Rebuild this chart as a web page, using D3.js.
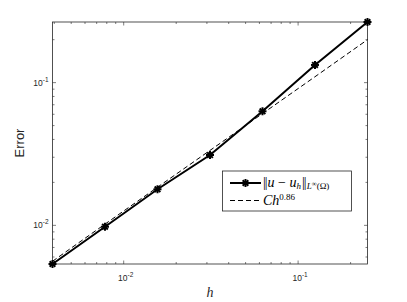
<!DOCTYPE html>
<html>
<head>
<meta charset="utf-8">
<script src="https://d3js.org/d3.v7.min.js"></script>
<style>
  body { margin: 0; background: #fff; }
  svg { display: block; }
</style>
</head>
<body>
<div id="chart"></div>
<script>
// mesh sizes and measured errors
const hValues = [1/256, 1/128, 1/64, 1/32, 1/16, 1/8, 1/4];
const errValues = [0.00536, 0.00978, 0.0179, 0.0311, 0.0630, 0.133, 0.266];
// reference rate line C h^0.86, read at the same h
const fitValues = [0.0056, 0.0102, 0.0185, 0.0335, 0.0607, 0.110, 0.200];
const xMajor = [1e-2, 1e-1];
const yMajor = [1e-2, 1e-1];

const width = 407, height = 302;
const plotL = 52.5, plotR = 367.5, plotT = 22, plotB = 264;

const svg = d3.select("#chart")
  .append("svg")
  .attr("width", width)
  .attr("height", height);

const x = d3.scaleLog()
  .domain([1/256, 1/4])
  .range([plotL, plotR]);

const y = d3.scaleLog()
  .domain([0.00536, 0.266])
  .range([plotB, plotT]);

// minor ticks for each decade
function minorTicks(scale) {
  const [a, b] = scale.domain();
  const out = [];
  for (let e = Math.floor(Math.log10(a)); e <= Math.ceil(Math.log10(b)); e++) {
    for (let m = 1; m < 10; m++) {
      const v = m * Math.pow(10, e);
      if (v >= a && v <= b) out.push({ v: v, major: m === 1 });
    }
  }
  return out;
}

const ticks = svg.append("g").attr("stroke", "#262626").attr("stroke-width", 0.6);
minorTicks(x).forEach(t => {
  const len = t.major ? 3.5 : 2;
  const px = x(t.v);
  ticks.append("line").attr("x1", px).attr("x2", px).attr("y1", plotB).attr("y2", plotB - len);
  ticks.append("line").attr("x1", px).attr("x2", px).attr("y1", plotT).attr("y2", plotT + len);
});
minorTicks(y).forEach(t => {
  const len = t.major ? 3.5 : 2;
  const py = y(t.v);
  ticks.append("line").attr("x1", plotL).attr("x2", plotL + len).attr("y1", py).attr("y2", py);
  ticks.append("line").attr("x1", plotR).attr("x2", plotR - len).attr("y1", py).attr("y2", py);
});

// tick labels 10^n
function expLabel(g, exp, anchor) {
  const t = g.append("text")
    .attr("font-family", "Liberation Sans, Arial, sans-serif")
    .attr("font-size", 8.5)
    .attr("fill", "#262626")
    .attr("text-anchor", anchor);
  t.append("tspan").text("10");
  t.append("tspan").attr("font-size", 6.5).attr("dy", -4).text(exp);
  return t;
}

xMajor.forEach(v => {
  expLabel(svg, "-" + Math.round(-Math.log10(v)), "middle")
    .attr("x", x(v) + 2)
    .attr("y", 281);
});
yMajor.forEach(v => {
  expLabel(svg, "-" + Math.round(-Math.log10(v)), "end")
    .attr("x", plotL - 4)
    .attr("y", y(v) + 3);
});

// axis box
svg.append("rect")
  .attr("x", plotL).attr("y", plotT)
  .attr("width", plotR - plotL).attr("height", plotB - plotT)
  .attr("fill", "none")
  .attr("stroke", "#262626")
  .attr("stroke-width", 0.8);

// axis labels
svg.append("text")
  .attr("transform", `translate(24,${(plotT + plotB) / 2}) rotate(-90)`)
  .attr("text-anchor", "middle")
  .attr("font-family", "Liberation Sans, Arial, sans-serif")
  .attr("font-size", 13)
  .attr("fill", "#262626")
  .text("Error");

svg.append("text")
  .attr("x", (plotL + plotR) / 2)
  .attr("y", 297)
  .attr("text-anchor", "middle")
  .attr("font-family", "Liberation Serif, Times New Roman, serif")
  .attr("font-style", "italic")
  .attr("font-size", 14)
  .attr("fill", "#262626")
  .text("h");

const line = d3.line()
  .x(d => x(d[0]))
  .y(d => y(d[1]));

// fitted rate line
svg.append("path")
  .datum(hValues.map((h, i) => [h, fitValues[i]]))
  .attr("d", line)
  .attr("fill", "none")
  .attr("stroke", "#000")
  .attr("stroke-width", 1)
  .attr("stroke-dasharray", "5,3");

// error line
svg.append("path")
  .datum(hValues.map((h, i) => [h, errValues[i]]))
  .attr("d", line)
  .attr("fill", "none")
  .attr("stroke", "#000")
  .attr("stroke-width", 2);

// asterisk markers
function star(g, cx, cy, r) {
  const s = g.append("g").attr("transform", `translate(${cx},${cy})`);
  for (let k = 0; k < 4; k++) {
    const a = k * Math.PI / 4;
    s.append("line")
      .attr("x1", -r * Math.cos(a)).attr("y1", -r * Math.sin(a))
      .attr("x2", r * Math.cos(a)).attr("y2", r * Math.sin(a))
      .attr("stroke", "#000").attr("stroke-width", 2);
  }
}
const markers = svg.append("g");
hValues.forEach((h, i) => star(markers, x(h), y(errValues[i]), 4));

// legend
const lg = svg.append("g");
lg.append("rect")
  .attr("x", 222.5).attr("y", 171)
  .attr("width", 129).attr("height", 40)
  .attr("fill", "#fff")
  .attr("stroke", "#262626")
  .attr("stroke-width", 0.8);
lg.append("line")
  .attr("x1", 230).attr("x2", 261).attr("y1", 183).attr("y2", 183)
  .attr("stroke", "#000").attr("stroke-width", 2);
star(lg, 245.5, 183, 4);
lg.append("line")
  .attr("x1", 230).attr("x2", 261).attr("y1", 200.5).attr("y2", 200.5)
  .attr("stroke", "#000").attr("stroke-width", 1)
  .attr("stroke-dasharray", "5,3");

const serif = "Liberation Serif, Times New Roman, serif";
const t1 = lg.append("text")
  .attr("x", 263).attr("y", 187)
  .attr("font-family", serif)
  .attr("font-size", 14)
  .attr("fill", "#000");
t1.append("tspan").attr("letter-spacing", -1).text("||");
t1.append("tspan").attr("dx", 1).attr("font-style", "italic").text("u");
t1.append("tspan").text(" \u2212 ");
t1.append("tspan").attr("font-style", "italic").text("u");
t1.append("tspan").attr("font-style", "italic").attr("font-size", 9).attr("dy", 2).text("h");
t1.append("tspan").attr("dx", 1).attr("dy", -2).attr("letter-spacing", -1).text("||");
t1.append("tspan").attr("dx", 1).attr("font-style", "italic").attr("font-size", 9).attr("dy", 2).text("L");
t1.append("tspan").attr("font-size", 7).attr("dy", -3).text("\u221E");
t1.append("tspan").attr("font-size", 9).attr("dy", 3).text("(\u03A9)");

const t2 = lg.append("text")
  .attr("x", 263).attr("y", 205)
  .attr("font-family", serif)
  .attr("font-size", 14)
  .attr("fill", "#000");
t2.append("tspan").attr("font-style", "italic").text("Ch");
t2.append("tspan").attr("font-size", 9).attr("dy", -5).text("0.86");
</script>
</body>
</html>
